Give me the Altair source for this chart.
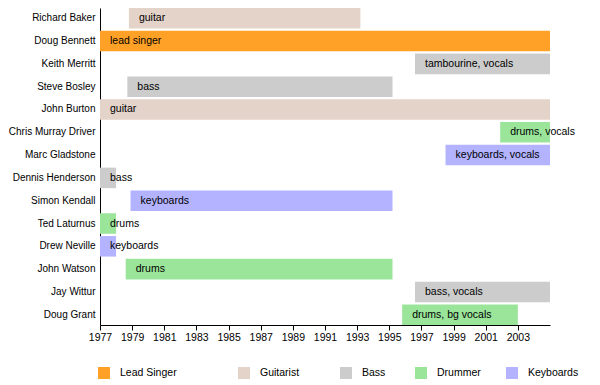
import altair as alt
import pandas as pd

# ---- data ----
members = ["Richard Baker", "Doug Bennett", "Keith Merritt", "Steve Bosley",
           "John Burton", "Chris Murray Driver", "Marc Gladstone",
           "Dennis Henderson", "Simon Kendall", "Ted Laturnus", "Drew Neville",
           "John Watson", "Jay Wittur", "Doug Grant"]
starts = [1978.8, 1977.0, 1996.6, 1978.7, 1977.0, 2001.9, 1998.5,
          1977.0, 1978.9, 1977.0, 1977.0, 1978.6, 1996.6, 1995.8]
ends = [1993.2, 2005.0, 2005.0, 1995.2, 2005.0, 2005.0, 2005.0,
        1978.0, 1995.2, 1978.0, 1978.0, 1995.2, 2005.0, 2003.0]
roles = ["Guitarist", "Lead Singer", "Bass", "Bass", "Guitarist", "Drummer",
         "Keyboards", "Bass", "Keyboards", "Drummer", "Keyboards", "Drummer",
         "Bass", "Drummer"]
notes = ["guitar", "lead singer", "tambourine, vocals", "bass", "guitar",
         "drums, vocals", "keyboards, vocals", "bass", "keyboards", "drums",
         "keyboards", "drums", "bass, vocals", "drums, bg vocals"]
role_order = ["Lead Singer", "Guitarist", "Bass", "Drummer", "Keyboards"]
role_colors = ["#FFA126", "#E3D3C9", "#CCCCCC", "#9BE59B", "#B3B3FF"]
tick_years = list(range(1977, 2004, 2))

df = pd.DataFrame({"member": members, "start": starts, "end": ends,
                   "role": roles, "note": notes})

FONT = "Liberation Sans"
# legend entry offsets (px, relative to the plot's left edge)
legend_x = [-2, 138, 240, 315, 406]

x_enc = alt.X("start:Q",
              scale=alt.Scale(domain=[1977, 2005], nice=False, zero=False),
              axis=alt.Axis(title=None, values=tick_years, format="d",
                            grid=False, domainColor="black", tickColor="black",
                            tickSize=5, labelFontSize=10.5, labelFont=FONT,
                            labelColor="black", labelPadding=2,
                            labelFlush=False, labelOverlap=False))
y_enc = alt.Y("member:N", sort=members,
              scale=alt.Scale(domain=members, paddingInner=0.1,
                              paddingOuter=0),
              axis=alt.Axis(title=None, ticks=False, grid=False,
                            domainColor="black", labelColor="black",
                            labelFontSize=10, labelFont=FONT, labelPadding=5,
                            minExtent=92, maxExtent=92))

base = alt.Chart(df).encode(x=x_enc, y=y_enc)

bar_layers = []
for role, col, lx in zip(role_order, role_colors, legend_x):
    bar_layers.append(
        base.transform_filter(alt.datum.role == role).mark_bar(cornerRadius=0)
        .encode(
            x2="end:Q",
            color=alt.Color("role:N",
                            scale=alt.Scale(domain=[role], range=[col]),
                            legend=alt.Legend(title=None, orient="none",
                                              legendX=lx, legendY=359,
                                              direction="horizontal",
                                              symbolType="square",
                                              symbolSize=144,
                                              symbolStrokeWidth=0,
                                              labelFontSize=10.5,
                                              labelFont=FONT,
                                              labelColor="black",
                                              labelOffset=10)),
        )
    )

text = base.mark_text(align="left", baseline="middle", dx=10, fontSize=10.5,
                      font=FONT, color="black").encode(text="note:N")

chart = alt.layer(*bar_layers, text).resolve_scale(
    color="independent"
).properties(
    width=450, height=317,
    padding={"left": 0, "top": 0, "right": 5, "bottom": 0},
).configure_view(stroke=None)

chart.save("out.html", embed_options={"renderer": "svg", "actions": False})
